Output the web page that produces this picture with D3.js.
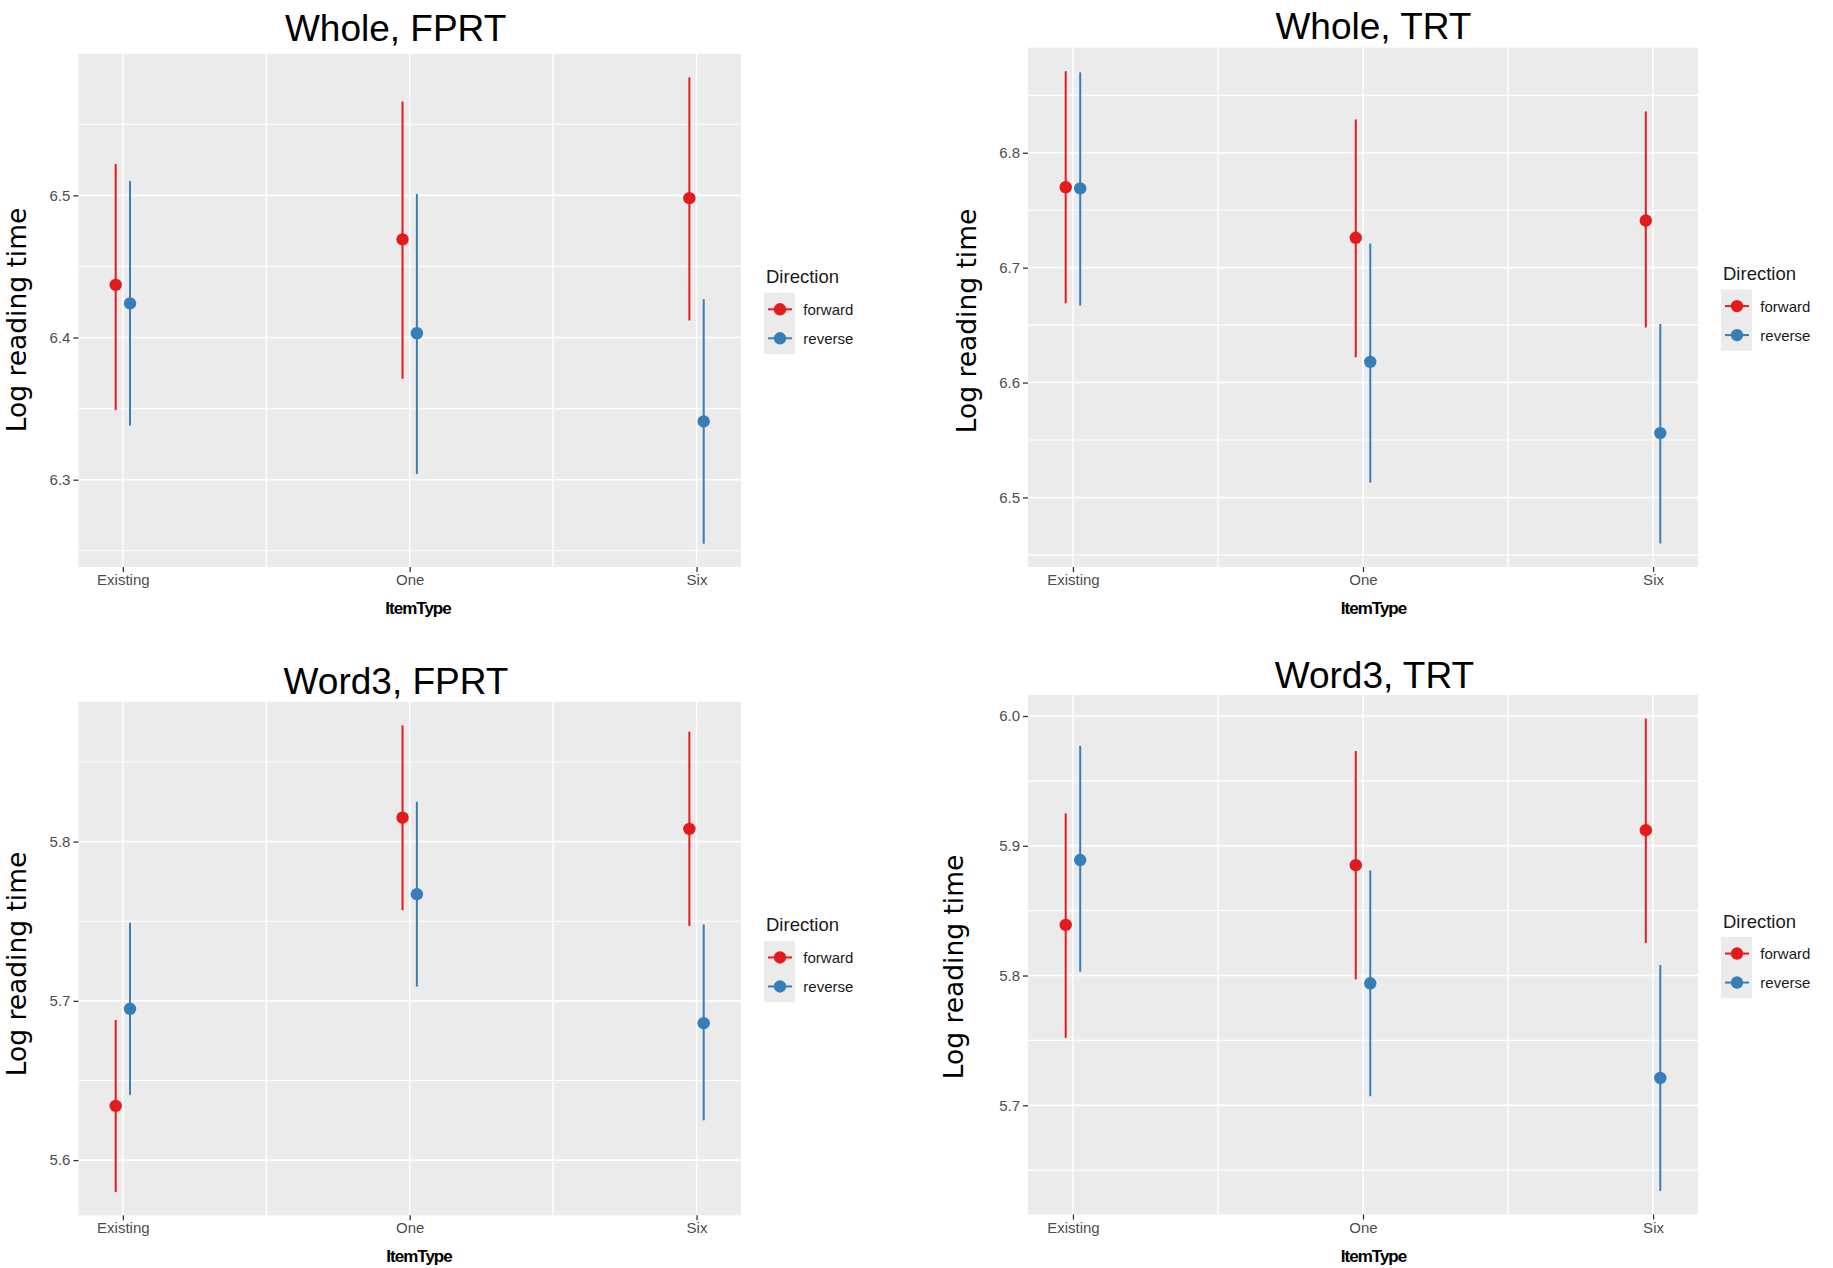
<!DOCTYPE html>
<html><head><meta charset="utf-8">
<script src="https://cdn.jsdelivr.net/npm/d3@7"></script>
<style>body{margin:0;background:#fff}</style>
</head><body><svg id="chart" width="1833" height="1268"></svg>
<script>
// ---------- data ----------
const categories = ["Existing", "One", "Six"];
const directions = ["forward", "reverse"];
const panelTitles = ["Whole, FPRT", "Whole, TRT", "Word3, FPRT", "Word3, TRT"];
const xTitle = "ItemType";
const yTitle = "Log reading time";
const legendTitle = "Direction";

// [mean, lower, upper] for Existing, One, Six
const wholeFprtForward = [[6.437, 6.349, 6.522], [6.469, 6.371, 6.566], [6.498, 6.412, 6.583]];
const wholeFprtReverse = [[6.424, 6.338, 6.510], [6.403, 6.304, 6.501], [6.341, 6.255, 6.427]];
const wholeTrtForward  = [[6.770, 6.669, 6.871], [6.726, 6.622, 6.829], [6.741, 6.648, 6.836]];
const wholeTrtReverse  = [[6.769, 6.667, 6.870], [6.618, 6.513, 6.721], [6.556, 6.460, 6.651]];
const word3FprtForward = [[5.634, 5.580, 5.688], [5.815, 5.757, 5.873], [5.808, 5.747, 5.869]];
const word3FprtReverse = [[5.695, 5.641, 5.749], [5.767, 5.709, 5.825], [5.686, 5.625, 5.748]];
const word3TrtForward  = [[5.839, 5.752, 5.925], [5.885, 5.797, 5.973], [5.912, 5.825, 5.998]];
const word3TrtReverse  = [[5.889, 5.803, 5.977], [5.794, 5.707, 5.881], [5.721, 5.634, 5.808]];

const yTicksWholeFprt = [6.3, 6.4, 6.5];
const yTicksWholeTrt  = [6.5, 6.6, 6.7, 6.8];
const yTicksWord3Fprt = [5.6, 5.7, 5.8];
const yTicksWord3Trt  = [5.7, 5.8, 5.9, 6.0];

const dirColors = ["#E41A1C", "#377EB8"];

// ---------- layout ----------
const panels = [
  {title: panelTitles[0], fwd: wholeFprtForward, rev: wholeFprtReverse, ticks: yTicksWholeFprt,
   x0: 78.4, x1: 741, y0: 54, y1: 567, tx: 395.6, ty: 40.7, ylx: 26, yly: 320, xtx: 418, xty: 614},
  {title: panelTitles[1], fwd: wholeTrtForward, rev: wholeTrtReverse, ticks: yTicksWholeTrt,
   x0: 1028, x1: 1698, y0: 47.6, y1: 567, tx: 1373.4, ty: 38.6, ylx: 976, yly: 321, xtx: 1373.5, xty: 614},
  {title: panelTitles[2], fwd: word3FprtForward, rev: word3FprtReverse, ticks: yTicksWord3Fprt,
   x0: 78.4, x1: 741, y0: 702, y1: 1215.3, tx: 396, ty: 694.2, ylx: 26, yly: 964, xtx: 419, xty: 1262},
  {title: panelTitles[3], fwd: word3TrtForward, rev: word3TrtReverse, ticks: yTicksWord3Trt,
   x0: 1028, x1: 1698, y0: 695, y1: 1214.5, tx: 1374.4, ty: 687.7, ylx: 963, yly: 967, xtx: 1373.5, xty: 1262}
];

const svg = d3.select("#chart");
const FONT = "'Liberation Sans', Arial, Helvetica, sans-serif";
const dodge = [-0.025, 0.025];

panels.forEach(p => {
  const g = svg.append("g");
  const series = [p.fwd, p.rev];
  const all = series.flat().flatMap(d => [d[1], d[2]]);
  const lo = d3.min(all), hi = d3.max(all), r = hi - lo;
  const ys = d3.scaleLinear().domain([lo - 0.05 * r, hi + 0.05 * r]).range([p.y1, p.y0]);
  const xs = d3.scaleLinear().domain([0.845, 3.155]).range([p.x0, p.x1]);

  g.append("rect").attr("x", p.x0).attr("y", p.y0)
    .attr("width", p.x1 - p.x0).attr("height", p.y1 - p.y0).attr("fill", "#EBEBEB");

  const [dmin, dmax] = ys.domain();
  const minorY = [];
  p.ticks.forEach(t => { [t - 0.05, t + 0.05].forEach(m => {
    if (m > dmin && m < dmax && !minorY.some(v => Math.abs(v - m) < 1e-6)) minorY.push(m); }); });
  const minorX = [1.5, 2.5];
  const majorX = [1, 2, 3];

  g.selectAll(".mny").data(minorY).join("line")
    .attr("x1", p.x0).attr("x2", p.x1).attr("y1", d => ys(d)).attr("y2", d => ys(d))
    .attr("stroke", "#fff").attr("stroke-width", 1.1);
  g.selectAll(".mnx").data(minorX).join("line")
    .attr("x1", d => xs(d)).attr("x2", d => xs(d)).attr("y1", p.y0).attr("y2", p.y1)
    .attr("stroke", "#fff").attr("stroke-width", 1.4);
  g.selectAll(".mjy").data(p.ticks).join("line")
    .attr("x1", p.x0).attr("x2", p.x1).attr("y1", d => ys(d)).attr("y2", d => ys(d))
    .attr("stroke", "#fff").attr("stroke-width", 1.6);
  g.selectAll(".mjx").data(majorX).join("line")
    .attr("x1", d => xs(d)).attr("x2", d => xs(d)).attr("y1", p.y0).attr("y2", p.y1)
    .attr("stroke", "#fff").attr("stroke-width", 1.4);

  series.forEach((s, si) => {
    const sg = g.append("g");
    sg.selectAll("line").data(s).join("line")
      .attr("x1", (d, i) => xs(i + 1 + dodge[si])).attr("x2", (d, i) => xs(i + 1 + dodge[si]))
      .attr("y1", d => ys(d[1])).attr("y2", d => ys(d[2]))
      .attr("stroke", dirColors[si]).attr("stroke-width", 2);
    sg.selectAll("circle").data(s).join("circle")
      .attr("cx", (d, i) => xs(i + 1 + dodge[si])).attr("cy", d => ys(d[0]))
      .attr("r", 6.2).attr("fill", dirColors[si]);
  });

  // axes
  const yAxis = d3.axisLeft(ys).tickValues(p.ticks).tickFormat(d3.format(".1f")).tickSize(5).tickPadding(3);
  const ya = g.append("g").attr("transform", `translate(${p.x0},0)`).call(yAxis);
  const xAxis = d3.axisBottom(xs).tickValues(majorX).tickFormat(d => categories[d - 1]).tickSize(5).tickPadding(2.5);
  const xa = g.append("g").attr("transform", `translate(0,${p.y1})`).call(xAxis);
  [ya, xa].forEach(a => {
    a.select(".domain").remove();
    a.selectAll(".tick line").attr("stroke", "#333").attr("stroke-width", 1.3);
    a.selectAll(".tick text").attr("fill", "#4D4D4D").style("font-family", FONT).style("font-size", "15px");
  });

  // titles
  g.append("text").attr("x", p.tx).attr("y", p.ty).attr("text-anchor", "middle")
    .style("font-family", FONT).style("font-size", "37px").attr("fill", "#000").text(p.title);
  g.append("text").attr("transform", `translate(${p.ylx},${p.yly}) rotate(-90)`).attr("text-anchor", "middle")
    .style("font-family", "'DejaVu Sans', Verdana, sans-serif").style("font-size", "26.5px").attr("fill", "#000").text(yTitle);
  g.append("text").attr("x", p.xtx).attr("y", p.xty).attr("text-anchor", "middle")
    .style("font-family", FONT).style("font-size", "17px").style("font-weight", "bold")
    .style("letter-spacing", "-1px").attr("fill", "#000").text(xTitle);

  // legend
  const midY = (p.y0 + p.y1) / 2;
  const k1 = midY - 1.2, step = 29;
  const bx = p.x1 + 23;
  const lg = g.append("g");
  lg.append("text").attr("x", bx + 2).attr("y", k1 - 26).style("font-family", FONT)
    .style("font-size", "18.5px").attr("fill", "#1a1a1a").text(legendTitle);
  lg.append("rect").attr("x", bx).attr("y", k1 - 16.6).attr("width", 31).attr("height", step + 32.3).attr("fill", "#EBEBEB");
  directions.forEach((d, i) => {
    const cy = k1 + i * step;
    lg.append("line").attr("x1", bx + 4).attr("x2", bx + 28).attr("y1", cy).attr("y2", cy)
      .attr("stroke", dirColors[i]).attr("stroke-width", 2);
    lg.append("circle").attr("cx", bx + 16).attr("cy", cy).attr("r", 6.2).attr("fill", dirColors[i]);
    lg.append("text").attr("x", bx + 39.3).attr("y", cy + 5.7).style("font-family", FONT)
      .style("font-size", "15px").attr("fill", "#1a1a1a").text(d);
  });
});
</script>
</body></html>
